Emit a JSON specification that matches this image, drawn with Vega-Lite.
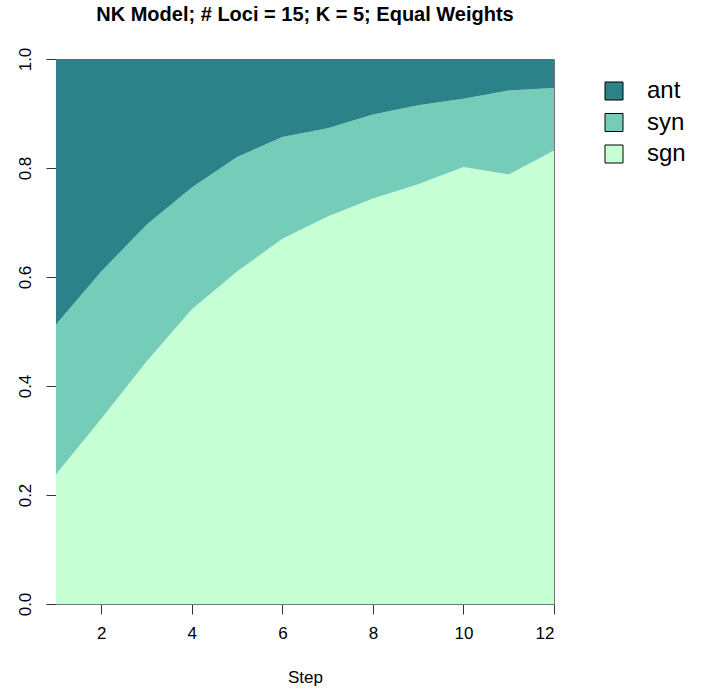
{
  "$schema": "https://vega.github.io/schema/vega-lite/v6.json",
  "autosize": "none",
  "width": 498,
  "height": 545,
  "padding": {"left": 56, "top": 59, "right": 157, "bottom": 92},
  "background": "white",
  "config": {
    "font": "Liberation Sans",
    "view": {"stroke": "#777777", "strokeWidth": 1},
    "axis": {"grid": false, "labelFont": "Liberation Sans", "titleFont": "Liberation Sans", "labelColor": "#000000", "titleColor": "#000000", "domainColor": "#777777", "tickColor": "#333333", "tickSize": 10, "labelFontSize": 17, "titleFontSize": 17, "titleFontWeight": "normal"}
  },
  "title": {"text": "NK Model; # Loci = 15; K = 5; Equal Weights", "fontSize": 20, "fontWeight": "bold", "font": "Liberation Sans", "color": "#000000", "anchor": "middle", "baseline": "alphabetic", "offset": 6},
  "data": {"values": [
    {"step": 1, "type": "sgn", "value": 0.238}, {"step": 1, "type": "syn", "value": 0.275}, {"step": 1, "type": "ant", "value": 0.487},
    {"step": 2, "type": "sgn", "value": 0.340}, {"step": 2, "type": "syn", "value": 0.270}, {"step": 2, "type": "ant", "value": 0.390},
    {"step": 3, "type": "sgn", "value": 0.445}, {"step": 3, "type": "syn", "value": 0.251}, {"step": 3, "type": "ant", "value": 0.304},
    {"step": 4, "type": "sgn", "value": 0.541}, {"step": 4, "type": "syn", "value": 0.223}, {"step": 4, "type": "ant", "value": 0.236},
    {"step": 5, "type": "sgn", "value": 0.610}, {"step": 5, "type": "syn", "value": 0.210}, {"step": 5, "type": "ant", "value": 0.180},
    {"step": 6, "type": "sgn", "value": 0.670}, {"step": 6, "type": "syn", "value": 0.187}, {"step": 6, "type": "ant", "value": 0.143},
    {"step": 7, "type": "sgn", "value": 0.711}, {"step": 7, "type": "syn", "value": 0.162}, {"step": 7, "type": "ant", "value": 0.127},
    {"step": 8, "type": "sgn", "value": 0.744}, {"step": 8, "type": "syn", "value": 0.154}, {"step": 8, "type": "ant", "value": 0.102},
    {"step": 9, "type": "sgn", "value": 0.770}, {"step": 9, "type": "syn", "value": 0.145}, {"step": 9, "type": "ant", "value": 0.085},
    {"step": 10, "type": "sgn", "value": 0.802}, {"step": 10, "type": "syn", "value": 0.125}, {"step": 10, "type": "ant", "value": 0.073},
    {"step": 11, "type": "sgn", "value": 0.788}, {"step": 11, "type": "syn", "value": 0.154}, {"step": 11, "type": "ant", "value": 0.058},
    {"step": 12, "type": "sgn", "value": 0.832}, {"step": 12, "type": "syn", "value": 0.115}, {"step": 12, "type": "ant", "value": 0.053}
  ]},
  "transform": [{"calculate": "indexof(['sgn','syn','ant'], datum.type)", "as": "layerOrder"}],
  "mark": {"type": "area", "interpolate": "linear", "opacity": 1},
  "encoding": {
    "x": {"field": "step", "type": "quantitative", "title": "Step",
      "scale": {"domain": [1, 12], "nice": false, "zero": false},
      "axis": {"values": [2, 4, 6, 8, 10, 12], "labelPadding": 11, "titlePadding": 28}},
    "y": {"field": "value", "type": "quantitative", "stack": "zero", "title": null,
      "scale": {"domain": [0, 1], "nice": false},
      "axis": {"values": [0, 0.2, 0.4, 0.6, 0.8, 1.0], "format": ".1f", "labelAngle": -90, "labelAlign": "center", "labelBaseline": "bottom", "labelPadding": 12}},
    "color": {"field": "type", "type": "nominal",
      "scale": {"domain": ["ant", "syn", "sgn"], "range": ["#2B8389", "#74CCB9", "#C7FFD5"]},
      "legend": {"title": null, "orient": "none", "legendX": 546, "legendY": 20, "symbolType": "square", "symbolSize": 324, "symbolStrokeColor": "#000000", "symbolStrokeWidth": 1, "symbolOpacity": 1, "labelFontSize": 24, "labelFont": "Liberation Sans", "labelColor": "#000000", "labelOffset": 21, "rowPadding": 7.5, "padding": 0}},
    "order": {"field": "layerOrder", "type": "quantitative"}
  }
}
